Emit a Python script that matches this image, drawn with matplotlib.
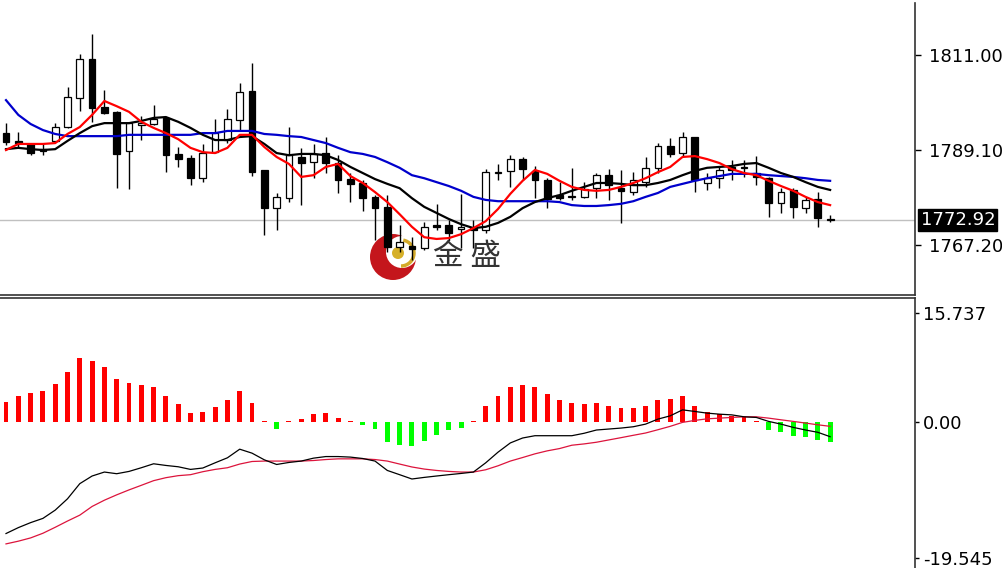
import numpy as np
import matplotlib.pyplot as plt
from matplotlib.patches import Circle, Arc

plt.rcParams['font.family'] = ['DejaVu Sans']

# K线数据
opens = [1793.0, 1791.2, 1790.5, 1788.9, 1791.2, 1794.4, 1801.1, 1810.1, 1799.0, 1797.9,
         1788.9, 1794.9, 1795.1, 1796.5, 1788.2, 1787.3, 1782.6, 1788.6, 1791.4, 1796.0,
         1802.7, 1784.5, 1775.7, 1778.0, 1787.5, 1786.3, 1788.4, 1786.1, 1782.4, 1781.5,
         1778.3, 1776.0, 1766.7, 1767.0, 1766.5, 1771.8, 1771.8, 1770.9, 1771.1, 1770.7,
         1783.8, 1784.3, 1787.0, 1784.3, 1782.2, 1778.7, 1778.3, 1778.3, 1780.3, 1783.3,
         1780.3, 1779.4, 1781.7, 1785.0, 1790.0, 1788.4, 1792.1, 1781.5, 1782.6, 1785.2,
         1785.0, 1783.8, 1782.6, 1776.9, 1779.9, 1775.7, 1777.8, 1773.2]
highs = [1795.3, 1793.3, 1790.7, 1790.7, 1795.3, 1803.6, 1811.2, 1815.8, 1802.9, 1798.0,
         1795.6, 1796.9, 1799.5, 1796.7, 1789.8, 1787.9, 1790.5, 1796.2, 1798.6, 1804.5,
         1809.2, 1784.6, 1779.2, 1794.4, 1789.6, 1790.5, 1792.1, 1787.9, 1783.8, 1782.2,
         1778.7, 1778.7, 1771.8, 1769.0, 1772.5, 1776.7, 1773.0, 1779.0, 1773.0, 1784.7,
         1785.9, 1787.9, 1787.5, 1785.4, 1782.6, 1781.7, 1785.0, 1781.7, 1783.8, 1784.7,
         1784.5, 1784.0, 1787.5, 1790.7, 1791.9, 1793.3, 1792.2, 1783.8, 1785.2, 1786.8,
         1786.8, 1787.7, 1782.9, 1780.3, 1780.3, 1778.3, 1779.4, 1774.1]
lows = [1790.3, 1789.8, 1787.9, 1787.9, 1790.9, 1794.2, 1798.1, 1795.6, 1797.5, 1780.3,
        1780.1, 1791.4, 1794.9, 1784.0, 1785.2, 1781.0, 1781.7, 1788.4, 1790.7, 1793.7,
        1783.1, 1769.5, 1770.7, 1777.1, 1776.4, 1782.6, 1783.8, 1779.2, 1777.1, 1775.0,
        1768.4, 1765.6, 1765.6, 1763.7, 1766.1, 1770.7, 1768.4, 1766.5, 1766.5, 1770.0,
        1782.2, 1780.6, 1782.2, 1778.0, 1775.7, 1777.6, 1777.6, 1778.0, 1778.0, 1777.6,
        1772.3, 1778.7, 1780.6, 1783.8, 1787.5, 1787.5, 1779.4, 1779.9, 1780.3, 1782.2,
        1782.9, 1781.0, 1773.7, 1774.6, 1773.4, 1774.6, 1771.4, 1772.5]
closes = [1790.9, 1790.7, 1788.4, 1789.3, 1794.4, 1801.3, 1810.1, 1798.8, 1797.6, 1788.2,
          1795.3, 1795.3, 1796.2, 1787.9, 1787.0, 1782.6, 1788.4, 1793.0, 1796.2, 1802.5,
          1784.0, 1775.7, 1778.3, 1787.9, 1786.1, 1788.2, 1786.1, 1782.2, 1781.3, 1778.0,
          1775.7, 1766.7, 1767.9, 1766.3, 1771.4, 1771.4, 1770.0, 1771.4, 1770.7, 1784.0,
          1784.0, 1787.0, 1784.7, 1782.2, 1777.8, 1778.0, 1778.3, 1780.1, 1783.3, 1781.0,
          1779.6, 1782.2, 1785.0, 1790.0, 1788.2, 1792.1, 1782.2, 1782.6, 1784.5, 1784.5,
          1785.0, 1782.9, 1776.9, 1779.4, 1776.0, 1777.6, 1773.4, 1772.92]

# 均线
ma_red = [1789.1, 1790.5, 1790.5, 1790.5, 1790.7, 1792.8, 1794.4, 1797.2, 1800.4, 1799.2,
          1797.9, 1795.6, 1794.2, 1793.0, 1791.6, 1789.6, 1788.6, 1788.4, 1789.6, 1792.6,
          1792.6, 1789.8, 1787.5, 1785.9, 1782.9, 1783.3, 1785.2, 1785.9, 1783.1, 1781.5,
          1779.4, 1777.1, 1774.3, 1771.4, 1769.0, 1768.6, 1768.8, 1769.7, 1771.1, 1772.7,
          1775.5, 1779.0, 1782.0, 1784.5, 1783.6, 1782.0, 1780.6, 1779.9, 1779.7, 1779.9,
          1780.6, 1781.5, 1782.6, 1784.0, 1785.2, 1787.5, 1787.7, 1787.0, 1786.1, 1784.7,
          1783.8, 1783.3, 1782.0, 1780.8, 1779.7, 1778.3, 1777.1, 1776.4]
ma_black = [1789.3, 1789.6, 1789.3, 1789.1, 1789.3, 1791.2, 1793.0, 1794.6, 1795.3, 1795.3,
            1795.3, 1795.8, 1796.5, 1796.7, 1795.6, 1794.2, 1792.6, 1791.4, 1791.4, 1792.1,
            1792.3, 1790.5, 1788.4, 1787.9, 1788.2, 1788.2, 1787.9, 1786.8, 1785.2, 1783.8,
            1782.4, 1781.3, 1780.3, 1778.0, 1776.0, 1774.6, 1773.2, 1772.0, 1771.1, 1771.4,
            1772.3, 1773.7, 1775.7, 1777.1, 1778.0, 1778.7, 1779.7, 1780.6, 1781.5, 1781.5,
            1781.3, 1781.0, 1781.0, 1781.5, 1782.2, 1783.3, 1784.3, 1785.0, 1785.2, 1785.4,
            1785.9, 1786.1, 1785.0, 1783.8, 1782.9, 1781.7, 1780.6, 1779.9]
ma_blue = [1800.6, 1797.2, 1795.1, 1793.7, 1792.8, 1792.3, 1792.3, 1792.3, 1792.3, 1792.3,
           1792.6, 1792.6, 1792.6, 1792.6, 1792.6, 1792.6, 1793.0, 1793.0, 1793.5, 1793.5,
           1793.5, 1792.8, 1792.6, 1792.3, 1792.1, 1791.4, 1790.7, 1789.6, 1788.6, 1788.2,
           1787.5, 1786.3, 1785.0, 1783.3, 1782.6, 1781.7, 1780.8, 1779.7, 1778.3, 1777.6,
           1777.3, 1777.3, 1777.3, 1777.3, 1777.3, 1777.1, 1776.4, 1776.2, 1776.2, 1776.4,
           1776.7, 1777.3, 1778.3, 1779.2, 1780.6, 1781.3, 1782.0, 1782.6, 1783.1, 1783.6,
           1783.6, 1783.6, 1783.3, 1783.1, 1782.9, 1782.6, 1782.2, 1782.0]

# MACD
macd_hist = [2.96, 3.76, 4.24, 4.43, 5.53, 7.19, 9.24, 8.86, 8.0, 6.14,
             5.67, 5.29, 5.04, 3.76, 2.57, 1.29, 1.47, 2.14, 3.19, 4.43,
             2.76, 0.2, -1.0, 0.15, 0.43, 1.1, 1.29, 0.61, 0.15, -0.39,
             -1.0, -2.9, -3.29, -3.5, -2.67, -1.81, -1.14, -0.81, 0.1, 2.33,
             3.76, 5.04, 5.29, 5.04, 4.0, 3.14, 2.71, 2.57, 2.71, 2.33,
             1.96, 2.1, 2.33, 3.14, 3.39, 3.76, 2.33, 1.47, 1.14, 0.9,
             0.67, 0.19, -1.14, -1.39, -1.96, -2.19, -2.57, -2.9]
dif = [-16.04, -15.19, -14.47, -13.86, -12.67, -11.04, -8.86, -7.76, -7.19, -7.43,
       -7.1, -6.57, -6.0, -6.24, -6.43, -6.81, -6.61, -5.86, -5.14, -3.9,
       -4.47, -5.43, -6.1, -5.81, -5.61, -5.19, -4.96, -4.96, -5.04, -5.24,
       -5.61, -6.96, -7.57, -8.19, -7.96, -7.76, -7.57, -7.39, -7.19, -5.86,
       -4.33, -3.0, -2.29, -1.96, -1.96, -1.96, -1.96, -1.61, -1.14, -1.0,
       -0.86, -0.67, -0.29, 0.43, 0.9, 1.76, 1.53, 1.29, 1.14, 1.04,
       0.76, 0.67, 0.1, -0.29, -0.76, -1.14, -1.47, -2.1]
dea = [-17.53, -17.14, -16.67, -16.0, -15.14, -14.24, -13.39, -12.14, -11.24, -10.47,
       -9.76, -9.1, -8.43, -8.0, -7.71, -7.57, -7.14, -6.81, -6.57, -6.04,
       -5.67, -5.61, -5.61, -5.61, -5.61, -5.53, -5.39, -5.29, -5.29, -5.29,
       -5.39, -5.61, -6.04, -6.46, -6.76, -6.96, -7.1, -7.19, -7.19, -6.86,
       -6.29, -5.61, -5.1, -4.57, -4.14, -3.81, -3.33, -3.14, -2.9, -2.57,
       -2.24, -1.9, -1.57, -1.1, -0.61, -0.04, 0.24, 0.47, 0.57, 0.67,
       0.76, 0.76, 0.57, 0.33, 0.1, -0.14, -0.39, -0.61]

price_ticks = [1767.2, 1789.1, 1811.0]
last_price = 1772.92
macd_ticks = [-19.545, 0.0, 15.737]
macd_labels = ['-19.545', '0.00', '15.737']

W, H = 1003, 568
fig = plt.figure(figsize=(W / 100, H / 100), dpi=100)
ax1 = fig.add_axes([0, 1 - 295 / H, 915 / W, 292 / H])
ax2 = fig.add_axes([0, 0, 915 / W, 270 / H])

idx = np.arange(len(closes))
o = np.array(opens)
c = np.array(closes)
bull = c >= o

# 价格窗口
ax1.axhline(last_price, color='#c0c0c0', lw=1, zorder=1)
ax1.vlines(idx, lows, highs, color='black', lw=1, zorder=3)
body_lo = np.minimum(o, c)
body_h = np.maximum(np.abs(c - o), 0.2)
ax1.bar(idx[bull], body_h[bull], bottom=body_lo[bull], width=0.55,
        color='white', edgecolor='black', lw=0.9, zorder=4)
ax1.bar(idx[~bull], body_h[~bull], bottom=body_lo[~bull], width=0.55,
        color='black', edgecolor='black', lw=0.9, zorder=4)
ax1.plot(idx, ma_blue, color='#0000cc', lw=1.6, zorder=5)
ax1.plot(idx, ma_black, color='black', lw=1.6, zorder=5)
ax1.plot(idx, ma_red, color='#ff0000', lw=1.6, zorder=6)

ax1.set_xlim(-0.488, 73.9)
ax1.set_ylim(1755.68, 1822.99)
ax1.set_xticks([])
ax1.yaxis.tick_right()
ax1.set_yticks(price_ticks)
ax1.set_yticklabels([f'{v:.2f}' for v in price_ticks])
ax1.tick_params(axis='y', length=4, width=1, pad=6, labelsize=13, colors='black')
ax1.annotate(f'{last_price:.2f}', xy=(1, last_price), xycoords=('axes fraction', 'data'),
             xytext=(4, 0), textcoords='offset points', va='center', ha='left',
             color='white', fontsize=13,
             bbox=dict(boxstyle='square,pad=0.12', fc='black', ec='black'),
             annotation_clip=False, zorder=10)

# MACD窗口
hist = np.array(macd_hist)
ax2.bar(idx, hist, width=0.4, color=np.where(hist >= 0, '#ff0000', '#00ff00'), lw=0)
ax2.plot(idx, dea, color='#dc143c', lw=0.9)
ax2.plot(idx, dif, color='black', lw=0.9)
ax2.set_xlim(-0.488, 73.9)
ax2.set_ylim(-21.0, 17.86)
ax2.set_xticks([])
ax2.yaxis.tick_right()
ax2.set_yticks(macd_ticks)
ax2.set_yticklabels(macd_labels)
ax2.tick_params(axis='y', length=3, width=1, pad=3, labelsize=13, colors='black')

for ax in (ax1, ax2):
    ax.spines['left'].set_visible(False)
    for s in ax.spines.values():
        s.set_color('#333333')
        s.set_linewidth(1.2)
ax1.spines['top'].set_visible(False)
ax2.spines['bottom'].set_visible(False)
ax1.set_zorder(3)
ax1.patch.set_alpha(0)

# 水印 logo
lg = fig.add_axes([365 / W, 1 - 282 / H, 60 / W, 54 / H], zorder=1)
lg.set_xlim(0, 60)
lg.set_ylim(54, 0)
lg.axis('off')
lg.add_patch(Circle((28, 29), 23, fc='#c4161c', ec='none'))
lg.add_patch(Circle((37, 24), 16, fc='white', ec='none'))
lg.add_patch(Arc((36, 25), 26, 26, theta1=-80, theta2=90, color='#d4aa2a', lw=2.5))
lg.add_patch(Circle((33, 25), 6, fc='#d6b02a', ec='none'))
fig.text(467 / W, 1 - 256 / H, '金 盛', fontsize=22, family=['Noto Sans CJK SC'],
         color='#333333', ha='center', va='center', zorder=2)

fig.savefig('out.png', dpi=100, facecolor='white')
